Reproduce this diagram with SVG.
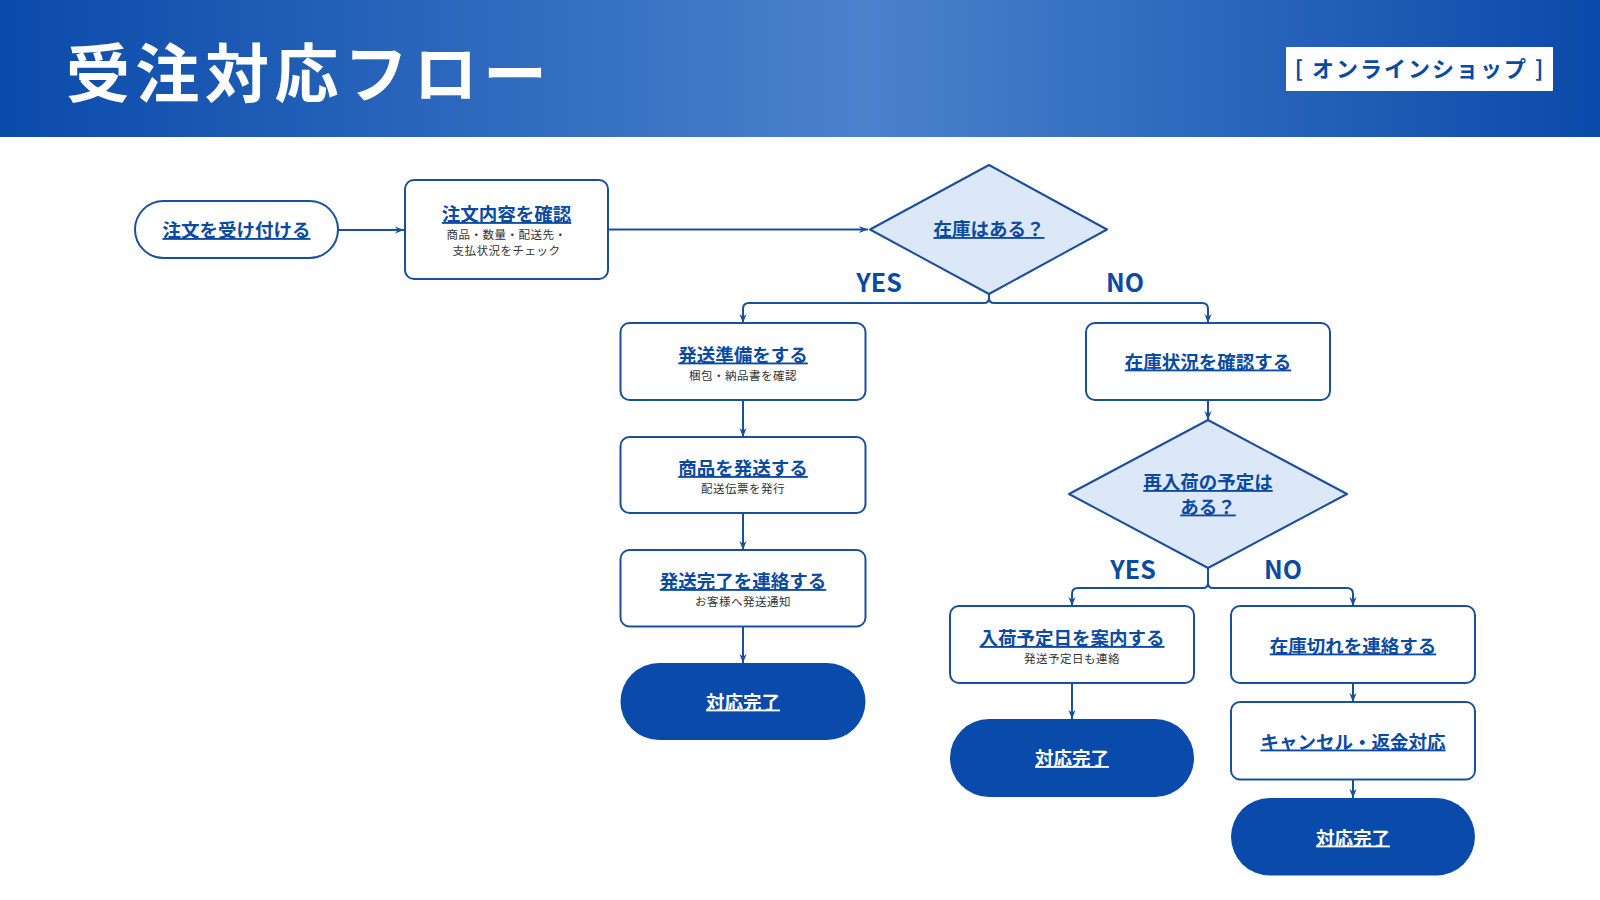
<svg xmlns="http://www.w3.org/2000/svg" width="1600" height="900" viewBox="0 0 1600 900">
<defs>
<linearGradient id="hdr" x1="0" y1="0" x2="1" y2="0">
<stop offset="0" stop-color="#0a4aaa"/>
<stop offset="0.54" stop-color="#4a82cc"/>
<stop offset="1" stop-color="#0a4aaa"/>
</linearGradient>
<marker id="ah" viewBox="0 0 10 10" refX="10" refY="5" markerWidth="9" markerHeight="9" markerUnits="userSpaceOnUse" orient="auto">
<path d="M0,1 L10,5 L0,9 L3,5 z" fill="#1a4f9c"/>
</marker>
<style>
.t{font-family:"Noto Sans CJK JP","Noto Sans",sans-serif;}
.box{fill:#ffffff;stroke:#1a4f9c;stroke-width:2;}
.dia{fill:#dce8f8;stroke:#1a4f9c;stroke-width:2;stroke-linejoin:round;}
.term{fill:#0a4aaa;}
.ttl{font-family:"Noto Sans CJK JP","Noto Sans",sans-serif;font-size:18.5px;font-weight:700;fill:#0b4aa2;text-anchor:middle;text-decoration:underline;}
.wt{font-family:"Noto Sans CJK JP","Noto Sans",sans-serif;font-size:18.5px;font-weight:700;fill:#ffffff;text-anchor:middle;text-decoration:underline;}
.sub{font-family:"Noto Sans CJK JP","Noto Sans",sans-serif;font-size:11.5px;fill:#333333;text-anchor:middle;letter-spacing:0.5px;}
.lbl{font-family:"Noto Sans CJK JP","Noto Sans",sans-serif;font-size:25px;font-weight:700;fill:#0b4aa2;text-anchor:middle;}
.con{fill:none;stroke:#1a4f9c;stroke-width:2;}
</style>
</defs>
<g id="header">
<rect x="0" y="0" width="1600" height="137" fill="url(#hdr)"/>
<text x="66" y="97" class="t" font-size="64" font-weight="700" fill="#ffffff" letter-spacing="5.5">受注対応フロー</text>
<rect x="1286" y="47" width="267" height="44" fill="#ffffff"/>
<text x="1420" y="77" class="t" font-size="22" font-weight="700" fill="#0b4aa2" text-anchor="middle" letter-spacing="2">[ オンラインショップ ]</text>
</g>
<g id="connectors">
<path class="con" d="M338,230 H404" marker-end="url(#ah)"/>
<path class="con" d="M608,229.5 H868" marker-end="url(#ah)"/>
<path class="con" d="M989,294 V298 Q989,303 984,303 H749 Q743,303 743,309 V323" marker-end="url(#ah)"/>
<path class="con" d="M989,294 V298 Q989,303 994,303 H1202 Q1208,303 1208,309 V323" marker-end="url(#ah)"/>
<path class="con" d="M743,400 V437" marker-end="url(#ah)"/>
<path class="con" d="M743,513 V550" marker-end="url(#ah)"/>
<path class="con" d="M743,626.5 V663" marker-end="url(#ah)"/>
<path class="con" d="M1208,400 V420" marker-end="url(#ah)"/>
<path class="con" d="M1208,568 V583 Q1208,588 1203,588 H1078 Q1072,588 1072,594 V606" marker-end="url(#ah)"/>
<path class="con" d="M1208,568 V583 Q1208,588 1213,588 H1347 Q1353,588 1353,594 V606" marker-end="url(#ah)"/>
<path class="con" d="M1072,683 V719" marker-end="url(#ah)"/>
<path class="con" d="M1353,683 V702" marker-end="url(#ah)"/>
<path class="con" d="M1353,779.5 V798" marker-end="url(#ah)"/>
</g>
<g id="labels">
<text x="879" y="291.5" class="lbl">YES</text>
<text x="1125" y="291.5" class="lbl">NO</text>
<text x="1133" y="578.5" class="lbl">YES</text>
<text x="1283" y="578.5" class="lbl">NO</text>
</g>
<g id="n-start">
<rect class="box" x="135" y="201" width="203" height="57" rx="28.5"/>
<text x="236.5" y="237" class="ttl">注文を受け付ける</text>
</g>
<g id="n-check-order">
<rect class="box" x="405" y="180" width="203" height="99" rx="9"/>
<text x="506.5" y="221" class="ttl">注文内容を確認</text>
<text x="506.5" y="239" class="sub">商品・数量・配送先・</text>
<text x="506.5" y="255" class="sub">支払状況をチェック</text>
</g>
<g id="d-stock">
<polygon class="dia" points="989,165 1107,229.5 989,294 870,229.5"/>
<text x="989" y="236" class="ttl">在庫はある？</text>
</g>
<g id="n-prepare">
<rect class="box" x="620.5" y="323" width="245" height="77" rx="9"/>
<text x="743" y="361.5" class="ttl">発送準備をする</text>
<text x="743" y="379.5" class="sub">梱包・納品書を確認</text>
</g>
<g id="n-ship">
<rect class="box" x="620.5" y="437" width="245" height="76" rx="9"/>
<text x="743" y="475" class="ttl">商品を発送する</text>
<text x="743" y="493" class="sub">配送伝票を発行</text>
</g>
<g id="n-notify">
<rect class="box" x="620.5" y="550" width="245" height="76.5" rx="9"/>
<text x="743" y="588" class="ttl">発送完了を連絡する</text>
<text x="743" y="606" class="sub">お客様へ発送通知</text>
</g>
<g id="n-end1">
<rect class="term" x="620.5" y="663" width="245" height="77" rx="38.5"/>
<text x="743" y="708.5" class="wt">対応完了</text>
</g>
<g id="n-check-stock">
<rect class="box" x="1086" y="323" width="244" height="77" rx="9"/>
<text x="1208" y="368.5" class="ttl">在庫状況を確認する</text>
</g>
<g id="d-restock">
<polygon class="dia" points="1208,420 1347,494 1208,568 1069,494"/>
<text x="1208" y="489" class="ttl">再入荷の予定は</text>
<text x="1208" y="513.5" class="ttl">ある？</text>
</g>
<g id="n-guide">
<rect class="box" x="950" y="606" width="244" height="77" rx="9"/>
<text x="1072" y="645" class="ttl">入荷予定日を案内する</text>
<text x="1072" y="662.5" class="sub">発送予定日も連絡</text>
</g>
<g id="n-end2">
<rect class="term" x="950" y="719" width="244" height="78" rx="39"/>
<text x="1072" y="765" class="wt">対応完了</text>
</g>
<g id="n-outofstock">
<rect class="box" x="1231" y="606" width="244" height="77" rx="9"/>
<text x="1353" y="652.5" class="ttl">在庫切れを連絡する</text>
</g>
<g id="n-cancel">
<rect class="box" x="1231" y="702" width="244" height="77.5" rx="9"/>
<text x="1353" y="748.5" class="ttl">キャンセル・返金対応</text>
</g>
<g id="n-end3">
<rect class="term" x="1231" y="798" width="244" height="77.5" rx="38.75"/>
<text x="1353" y="844.5" class="wt">対応完了</text>
</g>
</svg>
